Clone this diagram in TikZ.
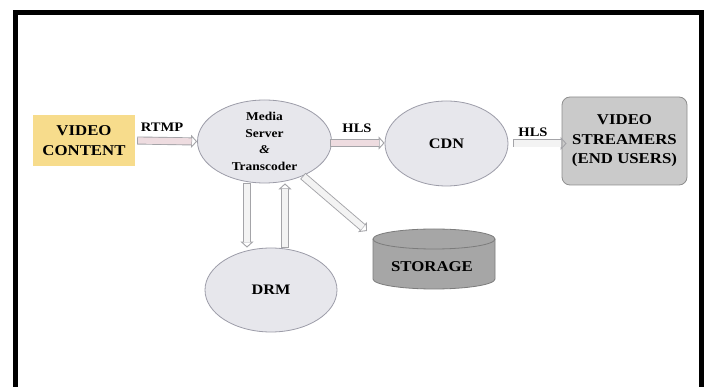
\documentclass[tikz,border=0pt]{standalone}
\usepackage{fontspec}
\setmainfont{Liberation Serif}[FakeStretch=1.12]
\usetikzlibrary{shapes.geometric,arrows.meta}
\definecolor{vcfill}{HTML}{F7DC8C}
\definecolor{ellfill}{HTML}{E7E7EC}
\definecolor{elldraw}{HTML}{9C9CA8}
\definecolor{vsfill}{HTML}{CACACA}
\definecolor{vsdraw}{HTML}{8E8E8E}
\definecolor{stfill}{HTML}{A6A6A6}
\definecolor{stdraw}{HTML}{7C7C7C}
\definecolor{arrline}{HTML}{A4A4A8}
\definecolor{pinkin}{HTML}{EEDCE0}
\definecolor{grayin}{HTML}{F3F3F3}
\tikzset{
  ellnode/.style={ellipse, draw=elldraw, fill=ellfill, line width=0.8pt, inner sep=0pt, align=center, font=\bfseries},
  fat/.style={draw=arrline, line width=8pt,
    -{Triangle[open, length=6pt, width=13pt, line width=0.9pt]},
    postaction={draw=#1, line width=6.2pt, -, shorten >=5.6pt, shorten <=0.9pt}},
  fat/.default=grayin,
  lbl/.style={font=\bfseries\fontsize{13}{13}\selectfont, inner sep=0pt}
}
\begin{document}
\begin{tikzpicture}[x=1pt,y=-1pt]
\useasboundingbox (0,0) rectangle (707,387);
\fill[white] (0,0) rectangle (707,387);
\clip (0,0) rectangle (707,387);
% frame
\draw[line width=5pt, black] (15.5,395) -- (15.5,12.5) -- (701.5,12.5) -- (701.5,395);

% nodes
\node[rectangle, fill=vcfill, minimum width=102pt, minimum height=51pt, align=center,
  font=\bfseries\fontsize{15}{20}\selectfont] (vc) at (84,140.5) {VIDEO\\CONTENT};
\node[ellnode, minimum width=134pt, minimum height=83pt,
  font=\bfseries\fontsize{12}{16.5}\selectfont] (ms) at (264.5,141.5)
  {Media\\Server\\\textit{\&}\\Transcoder};
\node[ellnode, minimum width=123pt, minimum height=85pt,
  font=\bfseries\fontsize{14.5}{18}\selectfont] (cdn) at (446.5,143.5) {CDN};
\node[rectangle, rounded corners=8pt, draw=vsdraw, fill=vsfill, line width=0.8pt,
  minimum width=125pt, minimum height=88pt, align=center,
  font=\bfseries\fontsize{15}{19.5}\selectfont] (vs) at (624.5,141)
  {VIDEO\\STREAMERS\\(END USERS)};
\node[ellnode, minimum width=132pt, minimum height=84pt,
  font=\bfseries\fontsize{14.5}{18}\selectfont] (drm) at (271,290) {DRM};

% storage cylinder
\filldraw[fill=stfill, draw=stdraw, line width=0.8pt]
  (373,239) -- (373,279) arc[start angle=180, end angle=0, x radius=61, y radius=10]
  -- (495,239) arc[start angle=0, end angle=-180, x radius=61, y radius=10] -- cycle;
\draw[stdraw, line width=0.8pt] (373,239) arc[start angle=180, end angle=0, x radius=61, y radius=10];
\node[font=\bfseries\fontsize{15}{18}\selectfont] (st) at (432,267) {STORAGE};
\coordinate (stin) at (367,231);

% connectors
\draw[fat=pinkin] ([xshift=2pt]vc.east) -- (ms.west);
\draw[fat=pinkin] ([xshift=-2pt,yshift=-1.5pt]ms.east) -- ([yshift=-1.5pt]ms.east -| cdn.west);
\draw[fat] ([xshift=5pt]cdn.east) -- ([xshift=5pt]cdn.east -| vs.west);
\draw[fat] (247,0 |- ms.south) -- (247,0 |- drm.north);
\draw[fat] (285,0 |- drm.north) -- (285,0 |- ms.south);
\draw[fat] (ms.-42) -- (stin);

% labels
\node[lbl] (lrtmp) at (162,127) {RTMP};
\node[lbl] (lhls1) at (357,128) {HLS};
\node[lbl] (lhls2) at (533,132) {HLS};
\end{tikzpicture}
\end{document}
